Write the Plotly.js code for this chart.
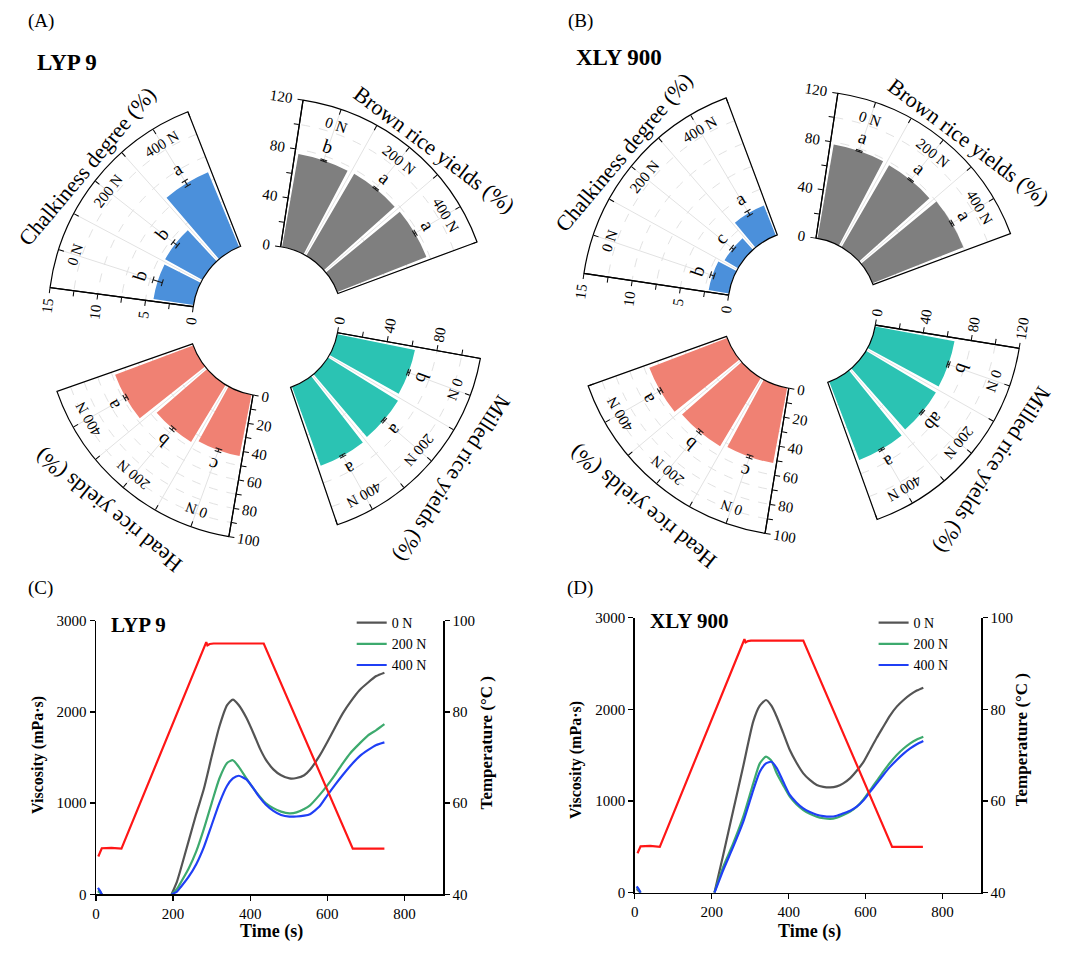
<!DOCTYPE html>
<html>
<head>
<meta charset="utf-8">
<script src="https://cdn.plot.ly/plotly-3.0.1.min.js"></script>
<style>
html,body{margin:0;padding:0;background:#ffffff;}
#chart{width:1071px;height:953px;}
</style>
</head>
<body>
<div id="chart"></div>
<script>
// ======================= DATA =======================
const nRates = ['0 N', '200 N', '400 N'];

// (A) LYP 9 — circular bar panels
const chalkA = [4.2, 4.4, 8.4];
const chalkAErr = [0.5, 0.3, 0.3];
const chalkALetters = ['b', 'b', 'a'];
const brownA = [76.3, 76.9, 77.4];
const brownAErr = [0.6, 0.6, 0.7];
const brownALetters = ['b', 'a', 'a'];
const milledA = [62.8, 65.2, 66.5];
const milledAErr = [0.8, 0.8, 0.8];
const milledALetters = ['b', 'a', 'a'];
const headA = [43.5, 46.5, 58.0];
const headAErr = [1.0, 1.0, 1.0];
const headALetters = ['c', 'b', 'a'];

// (B) XLY 900 — circular bar panels
const chalkB = [2.1, 1.6, 3.3];
const chalkBErr = [0.2, 0.15, 0.25];
const chalkBLetters = ['b', 'c', 'a'];
const brownB = [78.0, 77.5, 80.0];
const brownBErr = [0.6, 0.6, 0.8];
const brownBLetters = ['a', 'a', 'a'];
const milledB = [66.5, 67.0, 69.0];
const milledBErr = [0.8, 0.8, 0.8];
const milledBLetters = ['b', 'ab', 'a'];
const headB = [52.0, 54.0, 56.7];
const headBErr = [1.0, 1.0, 1.0];
const headBLetters = ['c', 'b', 'a'];

// radial tick values / labels
const chalkTicks = [0, 2.5, 5, 7.5, 10, 12.5, 15];
const chalkTickText = ['0', '', '5', '', '10', '', '15'];
const yieldTicks = [0, 20, 40, 60, 80, 100, 120];
const yieldTickText = ['0', '', '40', '', '80', '', '120'];
const milledATicks = [0, 20, 40, 60, 80, 100];
const milledATickText = ['0', '', '40', '', '80', ''];
const headTicks = [0, 10, 20, 30, 40, 50, 60, 70, 80, 90, 100];
const headTickText = ['0', '', '20', '', '40', '', '60', '', '80', '', '100'];

// (C) LYP 9 — RVA pasting curves (null = no visible reading)
const timeC = [5, 10, 15, 100, 196, 210, 220, 240, 260, 280, 300, 320, 340, 355, 370, 390, 410, 425, 440, 460, 480, 502, 520, 540, 555, 580, 600, 620, 640, 660, 684, 705, 727, 748];
const viscC0 = [40, 30, 0, null, 0, 140, 280, 580, 880, 1160, 1510, 1840, 2075, 2135, 2075, 1935, 1750, 1600, 1480, 1370, 1305, 1271, 1275, 1305, 1365, 1520, 1670, 1830, 1984, 2110, 2240, 2320, 2393, 2430];
const viscC200 = [30, 20, 0, null, 0, 60, 130, 280, 470, 720, 1000, 1270, 1440, 1470, 1400, 1270, 1150, 1071, 1000, 945, 907, 888, 898, 935, 975, 1090, 1195, 1310, 1436, 1550, 1655, 1740, 1801, 1866];
const viscC400 = [70, 40, 0, null, 0, 30, 80, 190, 330, 520, 760, 1000, 1190, 1270, 1300, 1260, 1150, 1060, 985, 915, 870, 852, 853, 862, 878, 965, 1085, 1200, 1308, 1410, 1515, 1580, 1637, 1666];
const tempTimeC = [6, 15, 40, 66, 286, 289, 295, 305, 435, 666, 748];
const tempC = [48.3, 50.1, 50.2, 50.0, 95.3, 94.6, 94.9, 95.0, 95.0, 50.0, 50.0];

// (D) XLY 900 — RVA pasting curves
const timeD = [5, 10, 15, 100, 207, 230, 256, 282, 308, 325, 341, 355, 369, 386, 403, 420, 438, 455, 473, 490, 508, 525, 542, 560, 577, 595, 612, 629, 646, 663, 681, 698, 716, 733, 750];
const viscD0 = [40, 20, 0, null, 0, 415, 899, 1382, 1869, 2040, 2102, 2040, 1920, 1740, 1556, 1420, 1302, 1230, 1175, 1155, 1149, 1160, 1193, 1250, 1330, 1430, 1560, 1690, 1810, 1930, 2030, 2100, 2160, 2205, 2237];
const viscD200 = [60, 30, 0, null, 0, 284, 540, 829, 1193, 1411, 1484, 1440, 1302, 1170, 1047, 965, 902, 860, 829, 812, 804, 818, 847, 885, 938, 1020, 1120, 1220, 1320, 1415, 1502, 1570, 1629, 1672, 1702];
const viscD400 = [70, 40, 0, null, 0, 248, 502, 775, 1120, 1320, 1410, 1428, 1360, 1210, 1066, 985, 920, 880, 850, 835, 829, 840, 866, 895, 938, 1010, 1102, 1192, 1284, 1370, 1448, 1515, 1575, 1620, 1655];
const tempTimeD = [7, 15, 40, 65, 285, 288, 294, 302, 438, 669, 749];
const tempD = [48.6, 50.1, 50.2, 50.0, 95.3, 94.6, 94.9, 95.0, 95.0, 50.0, 50.0];

const visTicks = [0, 1000, 2000, 3000];
const tempTicks = [40, 60, 80, 100];
const timeTicks = [0, 200, 400, 600, 800];

// ======================= STYLE / GEOMETRY =======================
const W = 1071, H = 953;
const FONT = '"Liberation Serif", "Times New Roman", Times, serif';
const SPAN = 61, DTH = SPAN / 3;

// pixel centre / inner / outer radius / radial-axis angle of each sector
const GEO = {
  A: {
    chalk:  {cx: 268.2, cy: 316.7, Ri: 75.6, R: 220.1, edge: 172.4},
    brown:  {cx: 269.6, cy: 318.7, Ri: 72.8, R: 221.2, edge: 81.3},
    milled: {cx: 267.7, cy: 320.2, Ri: 70.9, R: 216.1, edge: -10.2},
    head:   {cx: 266.2, cy: 318.1, Ri: 78.0, R: 221.7, edge: -99.7}
  },
  B: {
    chalk:  {cx: 804.0, cy: 306.3, Ri: 76.2, R: 222.5, edge: 171.5},
    brown:  {cx: 805.1, cy: 309.9, Ri: 72.5, R: 219.1, edge: 81.4},
    milled: {cx: 802.9, cy: 313.3, Ri: 73.4, R: 219.1, edge: -9.2},
    head:   {cx: 801.7, cy: 309.5, Ri: 79.8, R: 226.8, edge: -99.3}
  }
};
const SST = {
  chalk:  {color: '#4b90db', title: 'Chalkiness degree (%)', tickangle: 90,  tShift: -1.5, tGap: 15, tRot: -50},
  brown:  {color: '#7f7f7f', title: 'Brown rice yields (%)', tickangle: 90,  tShift: -5,   tGap: 15, tRot: 37},
  milled: {color: '#2bc3b3', title: 'Milled rice yields (%)', tickangle: -90, tShift: 0,   tGap: 27, tRot: 123},
  head:   {color: '#f08173', title: 'Head rice yields (%)', tickangle: -90, tShift: 1,    tGap: 27, tRot: 219}
};

const panelDefs = [
  {geo: GEO.A, sectors: [
    {key: 'chalk',  r: chalkA,  err: chalkAErr,  let: chalkALetters,  range: [0, 15],  tv: chalkTicks,   tt: chalkTickText},
    {key: 'brown',  r: brownA,  err: brownAErr,  let: brownALetters,  range: [0, 120], tv: yieldTicks,   tt: yieldTickText},
    {key: 'milled', r: milledA, err: milledAErr, let: milledALetters, range: [0, 115], tv: milledATicks, tt: milledATickText},
    {key: 'head',   r: headA,   err: headAErr,   let: headALetters,   range: [0, 100], tv: headTicks,    tt: headTickText}
  ]},
  {geo: GEO.B, sectors: [
    {key: 'chalk',  r: chalkB,  err: chalkBErr,  let: chalkBLetters,  range: [0, 15],  tv: chalkTicks, tt: chalkTickText},
    {key: 'brown',  r: brownB,  err: brownBErr,  let: brownBLetters,  range: [0, 120], tv: yieldTicks, tt: yieldTickText},
    {key: 'milled', r: milledB, err: milledBErr, let: milledBLetters, range: [0, 120], tv: yieldTicks, tt: yieldTickText},
    {key: 'head',   r: headB,   err: headBErr,   let: headBLetters,   range: [0, 100], tv: headTicks,  tt: headTickText}
  ]}
];

function mod(v, d) { const o = v % d; return o < 0 ? o + d : o; }
const d2r = Math.PI / 180;
// same bounding-box rule Plotly uses to fit a sector in its domain
function sectorBBox(s0, s1) {
  const arc = s1 - s0, a0 = mod(s0, 360), a1 = a0 + arc;
  const ax0 = Math.cos(a0 * d2r), ay0 = Math.sin(a0 * d2r), ax1 = Math.cos(a1 * d2r), ay1 = Math.sin(a1 * d2r);
  let x0, y0, x1, y1;
  if ((a0 <= 90 && a1 >= 90) || (a0 > 90 && a1 >= 450)) y1 = 1; else if (ay0 <= 0 && ay1 <= 0) y1 = 0; else y1 = Math.max(ay0, ay1);
  if ((a0 <= 180 && a1 >= 180) || (a0 > 180 && a1 >= 540)) x0 = -1; else if (ax0 >= 0 && ax1 >= 0) x0 = 0; else x0 = Math.min(ax0, ax1);
  if ((a0 <= 270 && a1 >= 270) || (a0 > 270 && a1 >= 630)) y0 = -1; else if (ay0 >= 0 && ay1 >= 0) y0 = 0; else y0 = Math.min(ay0, ay1);
  if (a1 >= 360) x1 = 1; else if (ax0 <= 0 && ax1 <= 0) x1 = 0; else x1 = Math.max(ax0, ax1);
  return [x0, y0, x1, y1];
}
function normAng(a) { while (a > 180) a -= 360; while (a <= -180) a += 360; return a; }
function toPaper(g, rp, th) {
  return {x: (g.cx + rp * Math.cos(th * d2r)) / W, y: 1 - (g.cy - rp * Math.sin(th * d2r)) / H};
}

const traces = [];
const annotations = [];
const layout = {
  width: W, height: H,
  margin: {l: 0, r: 0, t: 0, b: 0},
  paper_bgcolor: '#ffffff', plot_bgcolor: 'rgba(0,0,0,0)',
  font: {family: FONT, color: '#000000', size: 15},
  hovermode: false, dragmode: false
};

let pIdx = 0;
panelDefs.forEach(pd => {
  pd.sectors.forEach(sd => {
    pIdx++;
    const id = pIdx === 1 ? 'polar' : 'polar' + pIdx;
    const g = pd.geo[sd.key], st = SST[sd.key];
    const a1 = g.edge, a0 = g.edge - SPAN;
    const bb = sectorBBox(a0, a1);
    const dom = {
      x: [(g.cx + g.R * bb[0]) / W, (g.cx + g.R * bb[2]) / W],
      y: [1 - (g.cy - g.R * bb[1]) / H, 1 - (g.cy - g.R * bb[3]) / H]
    };
    layout[id] = {
      domain: dom,
      sector: [a0, a1],
      hole: g.Ri / g.R,
      bgcolor: '#ffffff',
      bargap: 0.12,
      radialaxis: {
        range: sd.range, angle: a1, side: 'counterclockwise',
        tickmode: 'array', tickvals: sd.tv, ticktext: sd.tt,
        ticks: 'outside', ticklen: 5, tickwidth: 1, tickcolor: '#000',
        tickangle: st.tickangle,
        tickfont: {family: FONT, size: 15, color: '#000'},
        showline: true, linecolor: '#000', linewidth: 1.2,
        showgrid: true, gridcolor: '#e2e2e2', griddash: 'dash', gridwidth: 1
      },
      angularaxis: {
        type: 'category', categoryorder: 'array', categoryarray: nRates,
        period: 360 / DTH, rotation: a1 - DTH / 2, direction: 'clockwise',
        tickmode: 'array', tickvals: [-0.5, 0, 0.5, 1, 1.5, 2, 2.5],
        showticklabels: false, ticks: 'inside', ticklen: 5, tickcolor: '#000',
        showline: true, linecolor: '#000', linewidth: 1.2,
        showgrid: true, gridcolor: '#e2e2e2', gridwidth: 1
      }
    };
    traces.push({
      type: 'barpolar', subplot: id, theta: nRates, r: sd.r,
      marker: {color: st.color, line: {width: 0}}, showlegend: false, hoverinfo: 'skip'
    });
    // error bars
    const er = [], et = [], ea = [];
    sd.r.forEach((v, i) => {
      const th = a1 - (i + 0.5) * DTH;
      er.push(v - sd.err[i], v + sd.err[i], null);
      et.push(nRates[i], nRates[i], null);
      ea.push(90 - th, 90 - th, 0);
    });
    traces.push({
      type: 'scatterpolar', subplot: id, mode: 'lines+markers', r: er, theta: et,
      line: {color: '#1a1a1a', width: 1.1},
      marker: {symbol: 'line-ew', size: 5, angle: ea, color: '#1a1a1a', line: {color: '#1a1a1a', width: 1.1}},
      showlegend: false, hoverinfo: 'skip', cliponaxis: false
    });
    const span = sd.range[1] - sd.range[0];
    const rpx = v => g.Ri + (v - sd.range[0]) / span * (g.R - g.Ri);
    // significance letters and N-rate labels
    sd.r.forEach((v, i) => {
      const th = a1 - (i + 0.5) * DTH;
      const p = toPaper(g, rpx(v + sd.err[i]) + 14, th);
      annotations.push({xref: 'paper', yref: 'paper', x: p.x, y: p.y, text: sd.let[i], showarrow: false,
        xanchor: 'center', yanchor: 'middle', textangle: normAng(90 - th), font: {family: FONT, size: 19, color: '#000'}});
      const q = toPaper(g, g.R - 17, th);
      annotations.push({xref: 'paper', yref: 'paper', x: q.x, y: q.y, text: nRates[i], showarrow: false,
        xanchor: 'center', yanchor: 'middle', textangle: normAng(90 - th), font: {family: FONT, size: 15, color: '#000'}});
    });
    // sector title
    const tth = a1 - SPAN / 2 + st.tShift;
    const tp = toPaper(g, g.R + st.tGap, tth);
    annotations.push({xref: 'paper', yref: 'paper', x: tp.x, y: tp.y, text: st.title, showarrow: false,
      xanchor: 'center', yanchor: 'middle', textangle: normAng(st.tRot), font: {family: FONT, size: 22, color: '#000'}});
  });
});

// ---------- RVA line panels ----------
const LINE_COL = {n0: '#545454', n200: '#3daa6e', n400: '#1f3ff5', temp: '#ff1616'};
const axBase = {
  showline: true, linecolor: '#000', linewidth: 1.5, mirror: false,
  ticks: 'outside', ticklen: 5, tickwidth: 1.3, tickcolor: '#000',
  showgrid: false, zeroline: false, tickfont: {family: FONT, size: 15, color: '#000'}
};
const domC = {x: [96 / W, 443 / W], y: [1 - 894.3 / H, 1 - 620.7 / H]};
const domD = {x: [634.8 / W, 981 / W], y: [1 - 892.7 / H, 1 - 617.7 / H]};

layout.xaxis = Object.assign({}, axBase, {domain: domC.x, range: [0, 900], tickvals: timeTicks, anchor: 'y'});
layout.yaxis = Object.assign({}, axBase, {domain: domC.y, range: [0, 3000], tickvals: visTicks, anchor: 'x'});
layout.yaxis2 = Object.assign({}, axBase, {overlaying: 'y', side: 'right', anchor: 'x', range: [40, 100], tickvals: tempTicks});
layout.xaxis2 = Object.assign({}, axBase, {domain: domD.x, range: [0, 900], tickvals: timeTicks, anchor: 'y3'});
layout.yaxis3 = Object.assign({}, axBase, {domain: domD.y, range: [0, 3000], tickvals: visTicks, anchor: 'x2'});
layout.yaxis4 = Object.assign({}, axBase, {overlaying: 'y3', side: 'right', anchor: 'x2', range: [40, 100], tickvals: tempTicks});

function visTrace(x, y, name, col, xa, ya, lg) {
  return {type: 'scatter', mode: 'lines', x: x, y: y, name: name, xaxis: xa, yaxis: ya, legend: lg,
    connectgaps: false, line: {color: col, width: 2.2, shape: 'spline', smoothing: 0.6}, hoverinfo: 'skip'};
}
traces.push(visTrace(timeC, viscC0, '0 N', LINE_COL.n0, 'x', 'y', 'legend'));
traces.push(visTrace(timeC, viscC200, '200 N', LINE_COL.n200, 'x', 'y', 'legend'));
traces.push(visTrace(timeC, viscC400, '400 N', LINE_COL.n400, 'x', 'y', 'legend'));
traces.push({type: 'scatter', mode: 'lines', x: tempTimeC, y: tempC, xaxis: 'x', yaxis: 'y2', showlegend: false,
  line: {color: LINE_COL.temp, width: 2.2}, hoverinfo: 'skip'});
traces.push(visTrace(timeD, viscD0, '0 N', LINE_COL.n0, 'x2', 'y3', 'legend2'));
traces.push(visTrace(timeD, viscD200, '200 N', LINE_COL.n200, 'x2', 'y3', 'legend2'));
traces.push(visTrace(timeD, viscD400, '400 N', LINE_COL.n400, 'x2', 'y3', 'legend2'));
traces.push({type: 'scatter', mode: 'lines', x: tempTimeD, y: tempD, xaxis: 'x2', yaxis: 'y4', showlegend: false,
  line: {color: LINE_COL.temp, width: 2.2}, hoverinfo: 'skip'});

const legBase = {xanchor: 'left', yanchor: 'top', bgcolor: 'rgba(0,0,0,0)', borderwidth: 0,
  font: {family: FONT, size: 14, color: '#000'}, tracegroupgap: 0, itemwidth: 30};
layout.legend = Object.assign({}, legBase, {x: 351.7 / W, y: 1 - 607 / H});
layout.legend2 = Object.assign({}, legBase, {x: 873.6 / W, y: 1 - 607 / H});
layout.showlegend = true;

// text labels (panel tags, cultivar names, axis titles)
function txt(x, y, text, size, bold, angle) {
  annotations.push({xref: 'paper', yref: 'paper', x: x / W, y: 1 - y / H, text: bold ? '<b>' + text + '</b>' : text,
    showarrow: false, xanchor: 'center', yanchor: 'middle', textangle: angle || 0,
    font: {family: FONT, size: size, color: '#000'}});
}
txt(40.5, 21, '(A)', 19, false);
txt(580, 21, '(B)', 19, false);
txt(40.5, 587.5, '(C)', 19, false);
txt(580, 587.5, '(D)', 19, false);
txt(67, 62.5, 'LYP 9', 23, true);
txt(619, 57, 'XLY 900', 23, true);
txt(138.3, 625, 'LYP 9', 21, true);
txt(689.4, 620.8, 'XLY 900', 21, true);
txt(37.9, 755, 'Viscosity (mPa·s)', 16, true, -90);
txt(576, 760, 'Viscosity (mPa·s)', 16, true, -90);
txt(486.4, 743, 'Temperature (°C )', 17, true, -90);
txt(1021.3, 740, 'Temperature (°C )', 17, true, -90);
txt(271, 931.7, 'Time (s)', 18, true);
txt(809, 931, 'Time (s)', 18, true);

layout.annotations = annotations;

Plotly.newPlot('chart', traces, layout, {displayModeBar: false, staticPlot: true});
</script>
</body>
</html>
